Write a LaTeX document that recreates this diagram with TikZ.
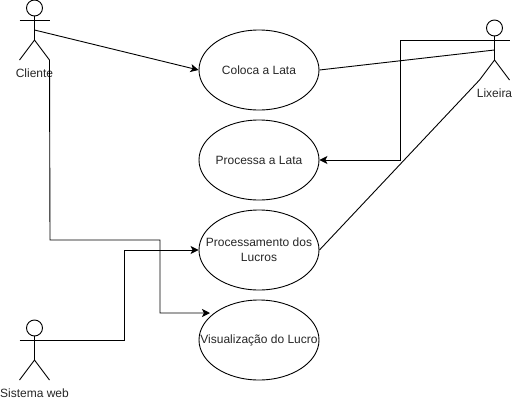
\documentclass[tikz,border=0pt]{standalone}
\usepackage{fontspec}
\setmainfont{Liberation Sans}
\usetikzlibrary{arrows.meta,shapes.geometric}

\tikzset{
  usecase/.style={draw, ellipse, line width=0.9pt, minimum width=120pt, minimum height=80pt, inner sep=0pt},
  casetext/.style={align=center, inner sep=0pt, font=\fontsize{12}{15}\selectfont, text=black!85},
  link/.style={line width=0.9pt},
  arrowlink/.style={link, -{Stealth[length=8pt,width=8pt,inset=2pt]}},
  pics/actor/.style={code={
    \draw[link] (0,8) circle (8);
    \draw[link] (0,16) -- (0,40);
    \draw[link] (-15,20) -- (15,20);
    \draw[link] (-15,60) -- (0,40) -- (15,60);
    \coordinate (-chest) at (0,30);
    \coordinate (-rhand) at (15,20);
    \coordinate (-lfoot) at (-15,60);
    \coordinate (-rfoot) at (15,60);
    \node[casetext] (-label) at (0,73.5) {#1};
  }}
}

\begin{document}
\begin{tikzpicture}[x=1pt,y=-1pt]
  \useasboundingbox (0,0) rectangle (512,402);

  % Actors
  \pic (cliente) at (34.5,0) {actor=Cliente};
  \pic (lixeira) at (494.5,20) {actor=Lixeira};
  \pic (sistema) at (34.5,320) {actor=Sistema web};

  % Use cases, the text sits in a centre label so the ellipse keeps its size
  \node[usecase, label={[casetext]center:Coloca a Lata}] (coloca) at (259,70) {};
  \node[usecase, label={[casetext]center:Processa a Lata}] (processa) at (259,160) {};
  \node[usecase, label={[casetext]center:Processamento dos\\Lucros}] (lucros) at (259,250) {};
  \node[usecase, label={[casetext]center:Visualização do Lucro}] (visual) at (259,340) {};

  % Free end of the arrow to the last use case
  \coordinate (visualtip) at (210,313);

  % Connectors
  \draw[arrowlink] (cliente-chest) -- (coloca.west);
  \draw[link] (coloca.east) -- (lixeira-chest);
  \draw[arrowlink] (lixeira-rhand) -- (400,40) -- (400,160) -- (processa.east);
  \draw[link] (lixeira-lfoot) -- (lucros.east);
  \draw[arrowlink] (cliente-rfoot) -- (50,240) -- (160,240) -- (160,313) -- (visualtip);
  \draw[arrowlink] (sistema-rhand) -- (124.5,340) -- (124.5,250) -- (lucros.west);
\end{tikzpicture}
\end{document}
